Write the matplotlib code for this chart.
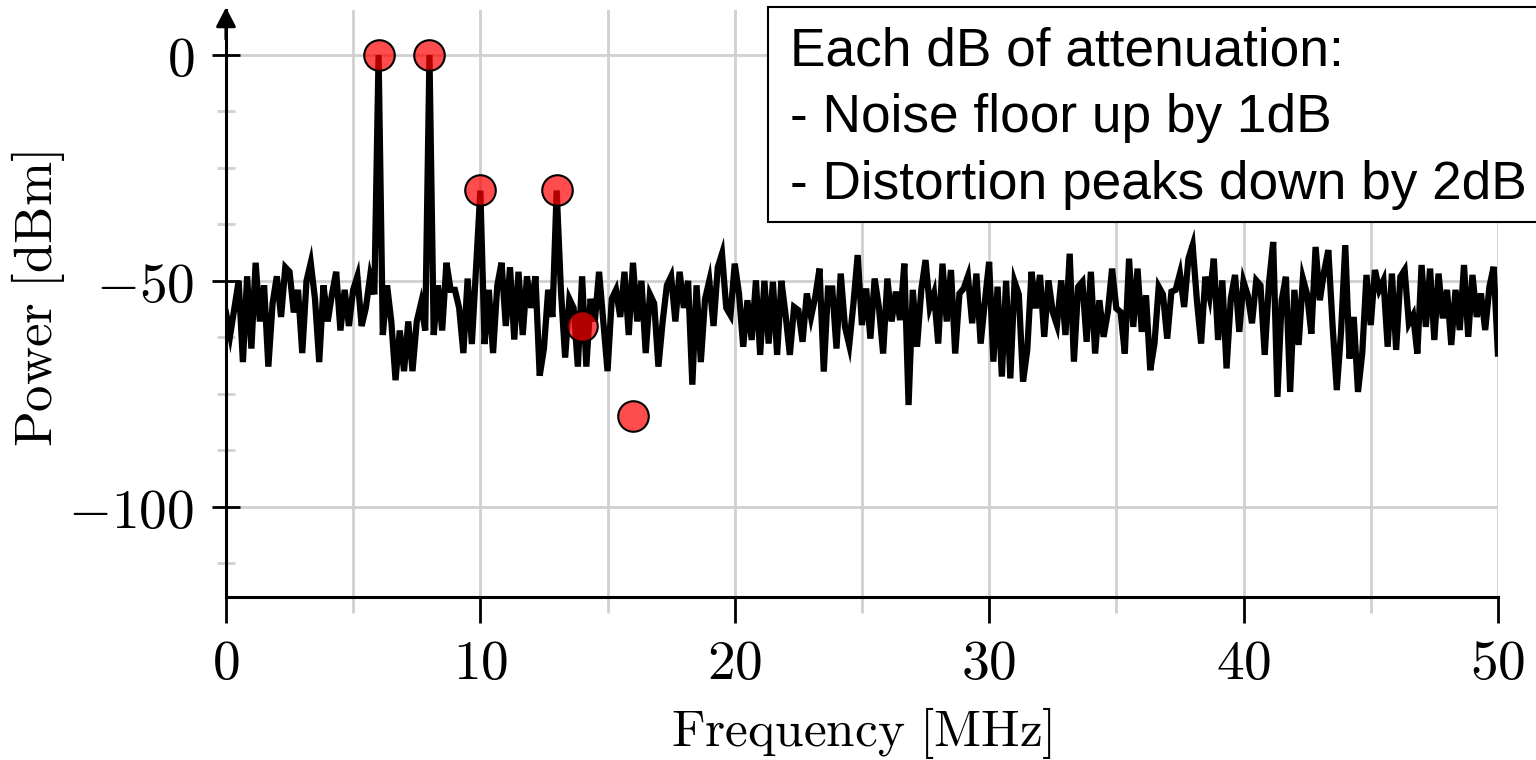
import numpy as np
import matplotlib
matplotlib.use("Agg")
import matplotlib.pyplot as plt
from matplotlib.patches import Rectangle
from matplotlib.ticker import MultipleLocator, FuncFormatter

plt.rcParams['mathtext.fontset'] = 'cm'

# spectrum trace in dBm, one bin every 1/6 MHz from 0 to 50 MHz
spec_power = [
    -57, -62, -56, -50, -68, -49, -65, -46, -59, -51, -69, -55, -49, -58, -47, -48, -57, -52,
    -66, -50, -46, -54, -68, -51, -59, -53, -48, -61, -52, -60, -52, -49, -60, -56, -49, -53,
    0,
    -62, -51, -59, -72, -61, -70, -59, -70, -59, -55, -61,
    0,
    -62, -51, -61, -46, -52, -52, -56, -66, -49.5, -64, -47,
    -30,
    -64, -52, -66, -51, -46, -60, -47, -63, -48, -62, -49, -56, -49, -71, -65, -52, -58,
    -30,
    -52, -67, -54, -56, -69, -49, -69, -54, -59, -48,
    -59, -70, -54, -52, -58, -48, -62, -46, -59, -50,
    -66, -53, -55, -69, -59, -51, -49, -59, -48, -56,
    -50, -73, -51, -68, -54, -50, -60, -47, -44, -56,
    -57.6, -46.2, -52.8, -64.6, -54.3, -63.1, -49.9, -66.4, -50, -63.9,
    -50.2, -66.4, -50, -57.6, -66.4, -55.8, -56.5, -63.5, -52.8, -58,
    -53.5, -47.3, -70.1, -51.7, -51.7, -65, -48.4, -60.2, -64.2, -55,
    -44.3, -59.8, -51.7, -62.8, -49.5, -55.8, -66.1, -49.5, -59, -52.4,
    -58.7, -46.2, -77.5, -52, -64.6, -52, -45.4, -55.8, -52.8, -63.9,
    -46.2, -59, -47.6, -66.1, -52.8, -51.7, -49, -59.4, -48.4, -63.9,
    -54.6, -45.8, -67.9, -51.3, -71.2, -50, -71.6, -50.2, -53, -72.3,
    -65.3, -48, -56.1, -48.7, -62.4, -49.9, -56.9, -59.8, -49.9, -62,
    -44, -67.9, -51.3, -50.2, -63.5, -48, -66.1, -54.3, -62.4, -56.9,
    -47.3, -56.1, -56.9, -66.1, -45.1, -60.2, -47.3, -61.3, -53.2, -69.8,
    -63.9, -51.3, -53, -62.8, -52.4, -52, -48.4, -55.8, -45.1, -42.1,
    -54.3, -63.9, -49.1, -53.5, -45.1, -63.1, -49.9, -69.4, -53.9,
    -48.7, -61.3, -50.2, -53.2, -59.4, -49.9, -51, -66.4, -50.6, -41.4,
    -75.7, -54.3, -49.1, -74.6, -52, -64.2, -49.5, -53, -61.7, -42.5,
    -54.3, -48, -43.2, -59.8, -74.2, -61.3, -42.1, -67.2, -58, -74.6,
    -66.1, -48.7, -59.8, -47.6, -52, -49.9, -64.6, -48.4, -65.3, -49.1,
    -47.6, -59.4, -57.6, -66.1, -46.5, -60.2, -47.3, -63.1, -48.4, -58.3,
    -52, -64.2, -52, -60.9, -46.5, -62.4, -48.7, -58, -52.8, -60.9,
    -51.3, -46.9, -66.1,
]
spec_freq = np.linspace(0, 50, len(spec_power))

# tones and predicted distortion products
tone_freq = [6, 8, 10, 13, 14, 16]
tone_power = [0, 0, -30, -30, -60, -80]

note_lines = [
    "Each dB of attenuation:",
    "- Noise floor up by 1dB",
    "- Distortion peaks down by 2dB",
]

grid_col = '#d0d0d0'
W, H = 1536, 760

fig = plt.figure(figsize=(15.36, 7.6), dpi=100)
ax = fig.add_axes([0.1471, 0.2145, 0.8281, 0.7726])

ax.plot(spec_freq, spec_power, color='k', lw=4.5, solid_joinstyle='miter', zorder=3)
ax.plot(tone_freq, tone_power, ls='none', marker='o', ms=22,
        mfc=(1, 0, 0, 0.7), mec='k', mew=1.5, zorder=4, clip_on=False)

ax.set_xlim(0, 50)
ax.set_ylim(-120, 10)
ax.xaxis.set_major_locator(MultipleLocator(10))
ax.xaxis.set_minor_locator(MultipleLocator(5))
ax.yaxis.set_major_locator(MultipleLocator(50))
ax.yaxis.set_minor_locator(MultipleLocator(12.5))
fmt = FuncFormatter(lambda v, p: f'${v:g}$')
ax.xaxis.set_major_formatter(fmt)
ax.yaxis.set_major_formatter(fmt)

ax.set_axisbelow(True)
ax.grid(which='both', axis='x', color=grid_col, lw=2)
ax.grid(which='major', axis='y', color=grid_col, lw=2)

ax.tick_params(axis='x', which='major', direction='out', length=18.5, width=2,
               labelsize=40, pad=10)
ax.tick_params(axis='x', which='minor', direction='out', length=11.5, width=2,
               color=grid_col)
ax.tick_params(axis='y', which='major', direction='inout', length=19.5, width=2,
               labelsize=40, pad=13)
ax.tick_params(axis='y', which='minor', direction='inout', length=12.5, width=2,
               color=grid_col)

for side in ['top', 'right']:
    ax.spines[side].set_visible(False)
for side in ['left', 'bottom']:
    ax.spines[side].set_linewidth(2.2)

# arrow head on top of the y axis
ax.annotate('', xy=(0, 1.004), xytext=(0, 0.95), xycoords='axes fraction',
            arrowprops=dict(arrowstyle='-|>,head_length=1.15,head_width=0.6',
                            color='k', lw=2.2, shrinkA=0, shrinkB=0),
            annotation_clip=False)

ax.set_xlabel(r'$\mathrm{Frequency\ [MHz]}$', fontsize=37, va='center')
ax.xaxis.set_label_coords(0.5, -0.231)
ax.set_ylabel(r'$\mathrm{Power\ [dBm]}$', fontsize=38, va='center')
ax.yaxis.set_label_coords(-0.148, 0.507)

# note box, running off the right edge like the original
box = Rectangle((768 / W, 1 - 222 / H), 800 / W, 215 / H, transform=fig.transFigure,
                fc='white', ec='black', lw=1.5, zorder=10)
fig.add_artist(box)
fig.text(790 / W, 1 - 27 / H, "\n".join(note_lines), ha='left', va='top',
         fontsize=38.3, family=['Liberation Sans', 'DejaVu Sans'], linespacing=1.42,
         zorder=11)

fig.savefig('out.png', dpi=100)
